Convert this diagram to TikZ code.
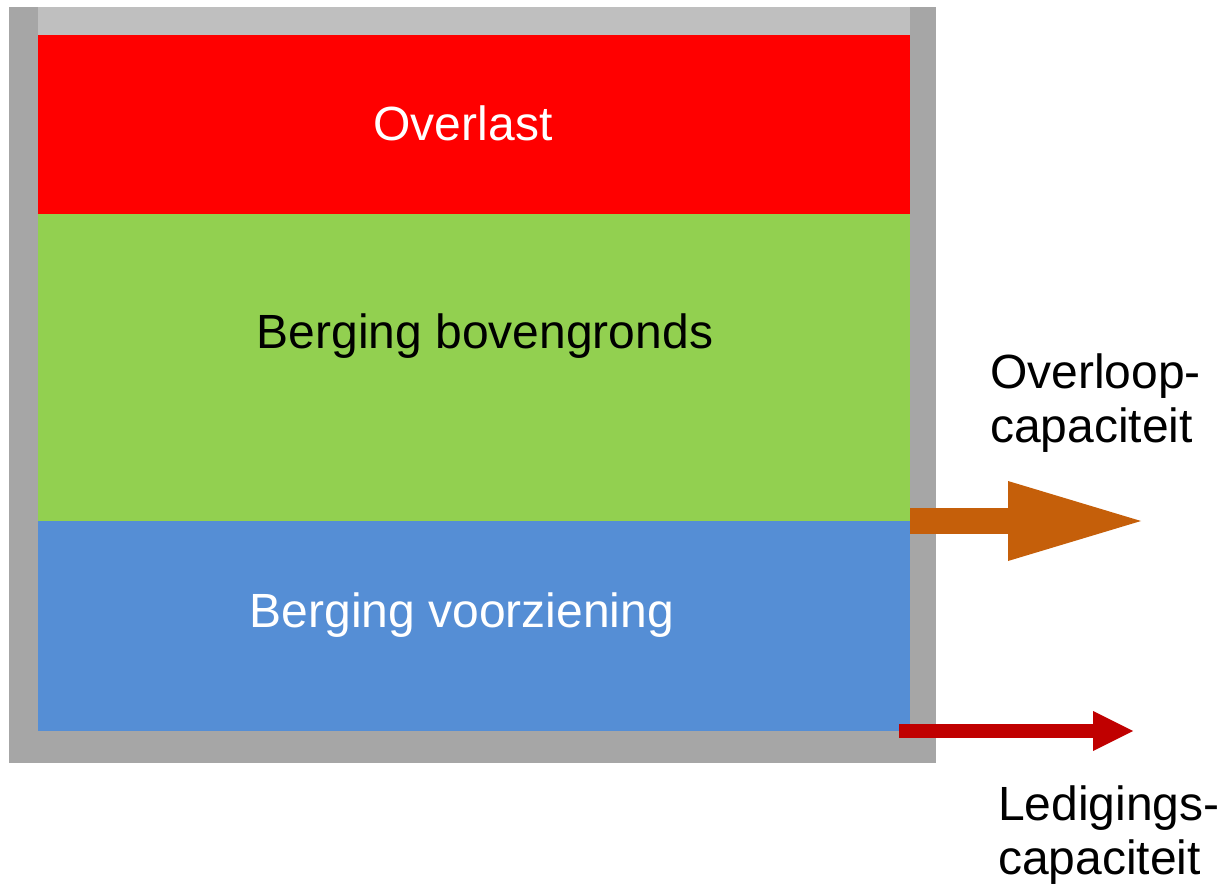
\documentclass[tikz,border=0pt]{standalone}
\usepackage{fontspec}
\setmainfont{Liberation Sans}
\usetikzlibrary{arrows.meta}

\definecolor{wallgray}{HTML}{A6A6A6}
\definecolor{lidgray}{HTML}{BFBFBF}
\definecolor{overlastred}{HTML}{FF0000}
\definecolor{bovengreen}{HTML}{92D050}
\definecolor{voorzblue}{HTML}{558ED5}
\definecolor{overlooporange}{HTML}{C55F0A}
\definecolor{ledigred}{HTML}{C00000}

\begin{document}
\begin{tikzpicture}[x=1pt, y=-1pt,
    layer/.style={rectangle, inner sep=0pt, outer sep=0pt, anchor=north west, minimum width=872pt},
    laylabel/.style={font=\fontsize{48}{54}\selectfont, inner sep=0pt, anchor=base},
    sidelabel/.style={font=\fontsize{48}{54}\selectfont, inner sep=0pt, anchor=north west, align=left}]
    \useasboundingbox (0, 0) rectangle (1224, 888);

    % tank
    \fill [wallgray] (9, 7) rectangle (936, 763);
    \fill [lidgray] (38, 7) rectangle (910, 35);
    \node [layer, fill=overlastred, minimum height=179pt] (overlast) at (38, 35) {};
    \node [layer, fill=bovengreen, minimum height=307pt] (bovengronds) at (38, 214) {};
    \node [layer, fill=voorzblue, minimum height=210pt] (voorziening) at (38, 521) {};

    \node [laylabel, text=white] (overlasttxt) at (463, 141) {Overlast};
    \node [laylabel] (bovengrondstxt) at (485, 348) {Berging bovengronds};
    \node [laylabel, text=white] (voorzieningtxt) at (462, 627) {Berging voorziening};

    % outflows
    \coordinate (overloopend) at (1141, 521);
    \coordinate (ledigingend) at (1133, 731);
    \draw [line width=26pt, overlooporange, -{Triangle[width=80pt, length=133pt, line width=0pt]}]
        (voorziening.north east) -- (overloopend);
    \draw [line width=14pt, ledigred, -{Triangle[width=40pt, length=40pt, line width=0pt]}]
        ([xshift=-11pt]voorziening.south east) -- (ledigingend);

    \node [sidelabel] (overloop) at (990, 354) {Overloop-\\capaciteit};
    \node [sidelabel] (lediging) at (998, 786) {Ledigings-\\capaciteit};
\end{tikzpicture}
\end{document}
